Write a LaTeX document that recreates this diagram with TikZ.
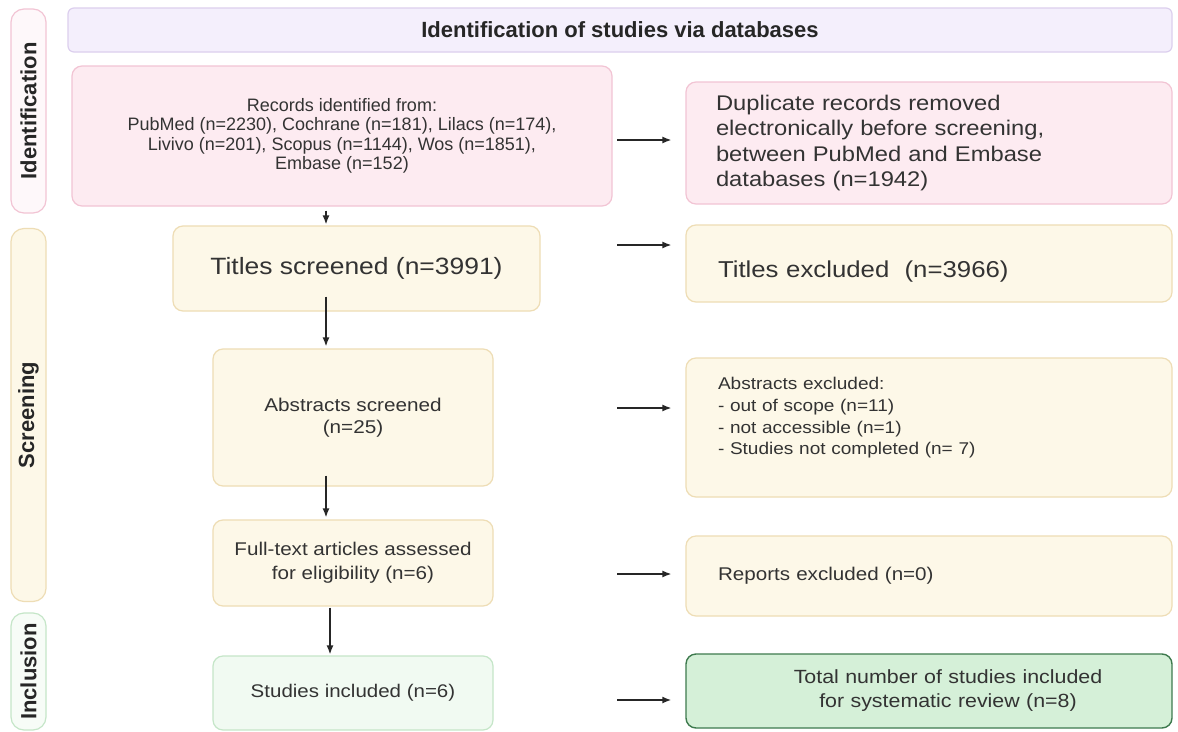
\documentclass[tikz,border=0pt]{standalone}
\usepackage{fontspec}
\setmainfont{Liberation Sans}
\newfontfamily\wide[FakeStretch=1.12]{Liberation Sans}
\usetikzlibrary{arrows.meta}
\newcommand\fsz[2]{\fontsize{#1}{#2}\selectfont}
\definecolor{pinkF}{HTML}{FDEBF1}
\definecolor{pinkB}{HTML}{F2C4D4}
\definecolor{yelF}{HTML}{FDF8E8}
\definecolor{yelB}{HTML}{EEDDB5}
\definecolor{grnF}{HTML}{F1FAF2}
\definecolor{grnB}{HTML}{C5E6C8}
\definecolor{totF}{HTML}{D5F0D8}
\definecolor{totB}{HTML}{3E7A4E}
\definecolor{hdrF}{HTML}{F4EFFC}
\definecolor{hdrB}{HTML}{DCCFEE}
\definecolor{txt}{HTML}{333333}
\begin{document}
\begin{tikzpicture}[x=1pt,y=-1pt,
  box/.style={draw, rounded corners=10pt, line width=1.2pt, inner sep=0pt, text=txt},
  pinkbox/.style={box, draw=pinkB, fill=pinkF},
  yelbox/.style={box, draw=yelB, fill=yelF},
  grnbox/.style={box, draw=grnB, fill=grnF},
  totbox/.style={box, draw=totB, fill=totF, line width=1.4pt},
  hdrbox/.style={box, draw=hdrB, fill=hdrF, rounded corners=6pt},
  sidebox/.style={box, rotate=90, font=\bfseries\fsz{22}{24}, text=black!85, rounded corners=13pt},
  arr/.style={-{Latex[length=9pt,width=7pt]}, line width=1.5pt, draw=black!85}]
\useasboundingbox (0,0) rectangle (1178,731);
\fill[white] (0,0) rectangle (1178,731);

% side labels
\node[sidebox, draw=pinkB, fill=pinkF!35, minimum width=204pt, minimum height=35pt] (sid) at (28.5,111) {Identification};
\node[sidebox, draw=yelB, fill=yelF, minimum width=373pt, minimum height=35pt] (sscr) at (28.5,415) {Screening};
\node[sidebox, draw=grnB, fill=grnF!60, minimum width=117pt, minimum height=35pt] (sinc) at (28.5,671.5) {Inclusion};

% header
\node[hdrbox, minimum width=1104pt, minimum height=44pt, font=\bfseries\fsz{22}{24}, text=black!85] (hdr) at (620,30) {Identification of studies via databases};

% left column
\node[pinkbox, minimum width=540pt, minimum height=140pt, align=center, font=\fsz{18}{19.5}] (rec) at (342,136)
 {Records identified from:\\PubMed (n=2230), Cochrane (n=181), Lilacs (n=174),\\Livivo (n=201), Scopus (n=1144), Wos (n=1851),\\Embase (n=152)};
\node[yelbox, minimum width=367pt, minimum height=85pt, font=\wide\fsz{23.6}{28}] (tsc) at (356.5,268.5) {Titles screened (n=3991)};
\node[yelbox, minimum width=280pt, minimum height=137pt, align=center, font=\wide\fsz{18.5}{21.7}] (asc) at (353,417.5) {Abstracts screened\\(n=25)};
\node[yelbox, minimum width=280pt, minimum height=86pt, align=center, font=\wide\fsz{18.4}{24}] (fta) at (353,563) {Full-text articles assessed\\for eligibility (n=6)};
\node[grnbox, minimum width=280pt, minimum height=74pt, font=\wide\fsz{18.3}{22}] (sin) at (353,693) {Studies included (n=6)};

% right column
\node[pinkbox, minimum width=486pt, minimum height=122pt, text width=426pt, inner xsep=30pt, align=left, font=\wide\fsz{21.2}{25.3}] (dup) at (929,143)
 {Duplicate records removed\\electronically before screening,\\between PubMed and Embase\\databases (n=1942)};
\node[yelbox, minimum width=486pt, minimum height=77pt, text width=422pt, inner xsep=32pt, align=left, font=\wide\fsz{23}{27}] (tex) at (929,263.5) {\rule{0pt}{32pt}Titles excluded\ \ (n=3966)};
\node[yelbox, minimum width=486pt, minimum height=139pt, text width=422pt, inner xsep=32pt, align=left, font=\wide\fsz{17}{21.7}] (aex) at (929,427.5)
 {Abstracts excluded:\\- out of scope (n=11)\\- not accessible (n=1)\\- Studies not completed (n= 7)\\[1pt]\mbox{}};
\node[yelbox, minimum width=486pt, minimum height=80pt, text width=422pt, inner xsep=32pt, align=left, font=\wide\fsz{18.4}{22}] (rex) at (929,576) {Reports excluded (n=0)};
\node[totbox, minimum width=486pt, minimum height=74pt, text width=486pt, inner xsep=0pt, align=center, font=\wide\fsz{19.1}{24}] (tot) at (929,691)
 {\hspace*{38pt}Total number of studies included\\\hspace*{38pt}for systematic review (n=8)};

% vertical arrows
\coordinate (ax) at (326,0);
\coordinate (bx) at (330,0);
\draw[arr] ([yshift=-4pt]rec.south -| ax) -- ([yshift=1pt]tsc.north -| ax);
\draw[arr] ([yshift=15pt]tsc.south -| ax) -- ([yshift=2pt]asc.north -| ax);
\draw[arr] ([yshift=11pt]asc.south -| ax) -- ([yshift=2pt]fta.north -| ax);
\draw[arr] ([yshift=-1pt]fta.south -| bx) -- ([yshift=1pt]sin.north -| bx);

% horizontal arrows
\coordinate (h1) at (617,140);
\coordinate (h2) at (617,245);
\coordinate (h3) at (617,408);
\coordinate (h4) at (617,574);
\coordinate (h5) at (617,700);
\draw[arr, shorten >=14pt] (h1) -- (dup.west |- h1);
\draw[arr, shorten >=14pt] (h2) -- (tex.west |- h2);
\draw[arr, shorten >=14pt] (h3) -- (aex.west |- h3);
\draw[arr, shorten >=14pt] (h4) -- (rex.west |- h4);
\draw[arr, shorten >=14pt] (h5) -- (tot.west |- h5);
\end{tikzpicture}
\end{document}
